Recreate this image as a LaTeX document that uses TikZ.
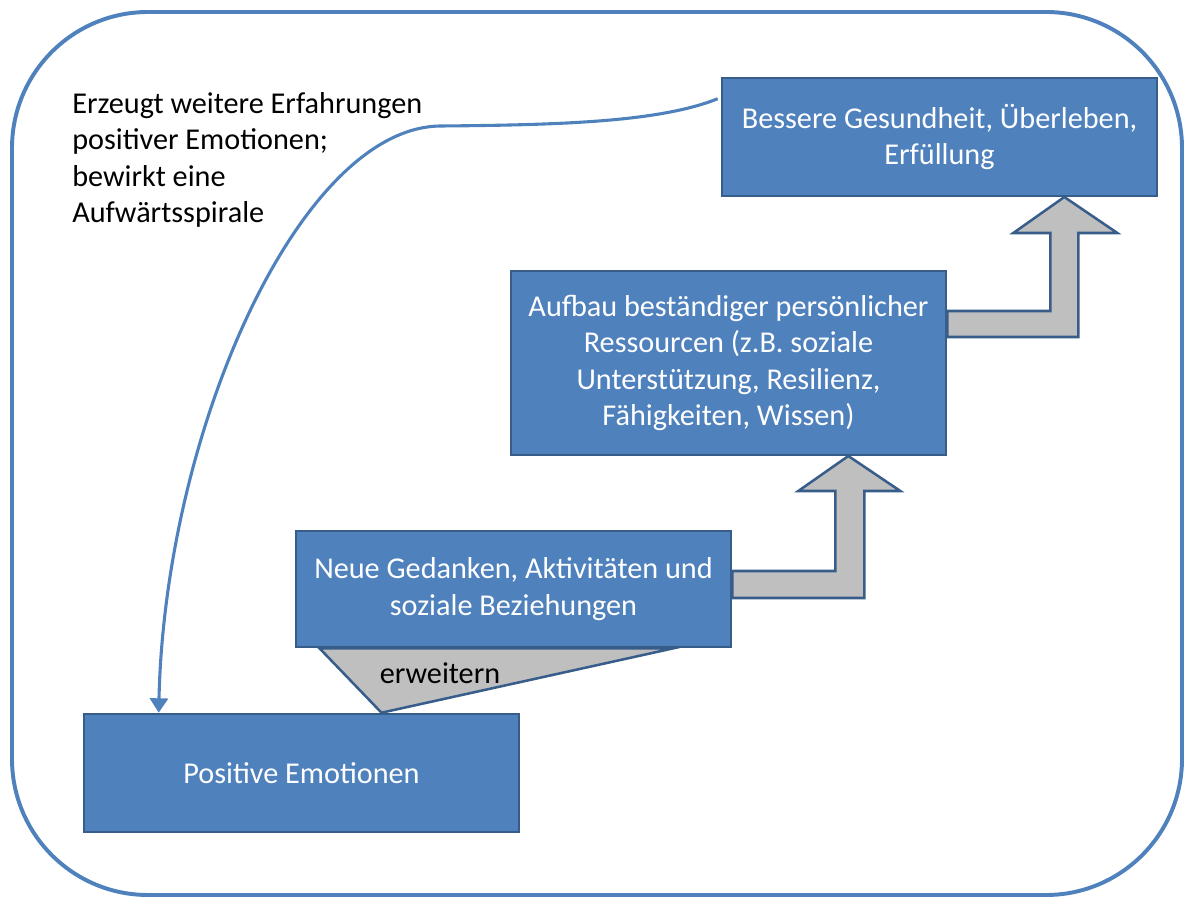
\documentclass[tikz,border=0pt]{standalone}
\usepackage{fontspec}
\setmainfont{Carlito}
\usepackage{tikz}
\usetikzlibrary{arrows.meta, calc, backgrounds}
\definecolor{boxblue}{RGB}{79,129,189}
\definecolor{edgeblue}{RGB}{56,93,138}
\definecolor{arrgray}{RGB}{191,191,191}

\begin{document}
\begin{tikzpicture}
        [x=0.025cm, y=-0.025cm,
        every node/.style={font=\fontsize{21.5}{26}\selectfont},
        box/.style={rectangle, draw=edgeblue, fill=boxblue, line width=1.8pt,
          text=white, align=center, minimum width=10.875cm, inner sep=0pt},
        block/.style={draw=edgeblue, fill=arrgray, line width=1.8pt, line join=miter},
        spiral/.style={-{Triangle[width=0.45cm,length=0.36cm]}, draw=boxblue, line width=2.2pt}]
        \useasboundingbox (0,0) rectangle (1186,899);
        \draw[boxblue, line width=2.8pt, rounded corners=3.4cm] (12,12) rectangle (1182,895);
        \node (B) at (939.5,137) [box, minimum height=2.95cm] {Bessere Gesundheit, Überleben,\\Erfüllung};
        \node (A) at (728.5,363) [box, minimum height=4.6cm] {Aufbau beständiger persönlicher\\Ressourcen (z.B. soziale\\Unterstützung, Resilienz,\\Fähigkeiten, Wissen)};
        \node (N) at (513.5,589) [box, minimum height=2.9cm] {Neue Gedanken, Aktivitäten und\\soziale Beziehungen};
        \node (P) at (301.5,773) [box, minimum height=2.95cm] {Positive Emotionen};
        \node (T) at (72,160) [anchor=west, align=left, inner sep=0pt] {Erzeugt weitere Erfahrungen\\positiver Emotionen;\\bewirkt eine\\Aufwärtsspirale};
        \begin{pgfonlayer}{background}
          \draw[block] (N.east) ++(0,-18) -- ++(103,0) -- ++(0,-80) -- ++(-37,0) -- ++(50,-35)
            -- ++(52,35) -- ++(-36,0) -- ++(0,107) -- ++(-132,0) -- cycle;
          \draw[block] (A.east) ++(0,-52) -- ++(103,0) -- ++(0,-78) -- ++(-37,0) -- ++(51,-36)
            -- ++(53,36) -- ++(-39,0) -- ++(0,104) -- ++(-131,0) -- cycle;
          \draw[block] ($(N.south)+(-194,0)$) -- ($(N.south)+(160,0)$) -- ($(P.north)+(80,0)$) -- cycle;
        \end{pgfonlayer}
        \node (W) at (440,673) {erweitern};
        \draw[spiral] ($(B.north west)+(-3,22)$) .. controls (660,122) and (560,125) .. (440,126)
          .. controls (300,128) and (165,430) .. ($(P.north west)+(76,0)$);
\end{tikzpicture}
\end{document}
